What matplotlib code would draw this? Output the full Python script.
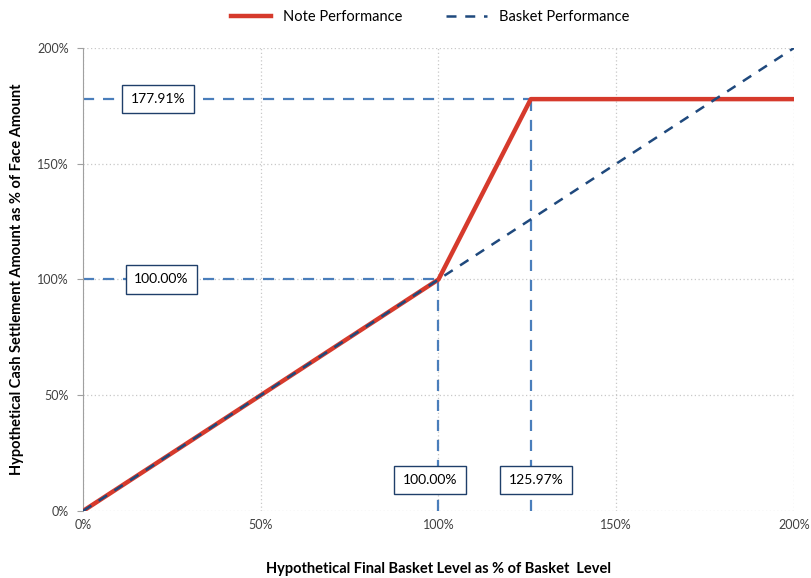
import matplotlib
matplotlib.use("Agg")
import matplotlib.pyplot as plt
from matplotlib.ticker import FuncFormatter

plt.rcParams['font.family'] = ['Lato', 'DejaVu Sans']

# Payoff data (% values)
basket_level = [0, 100, 125.97, 200]
note_payoff = [0, 100, 177.91, 177.91]
basket_x = [0, 200]
basket_y = [0, 200]

cap_level = 125.97
cap_value = 177.91
par_level = 100.0
par_value = 100.0

ref_color = '#4a7ebb'
note_color = '#d63a2c'
basket_color = '#1f497d'

fig = plt.figure(figsize=(8.11, 5.78), dpi=100)
ax = fig.add_axes([0.1023, 0.1159, 0.8767, 0.8011])

# reference guides
ax.plot([0, cap_level], [cap_value, cap_value], color=ref_color, lw=1.6, ls=(0, (5, 4)), zorder=2)
ax.plot([0, par_level], [par_value, par_value], color=ref_color, lw=1.6, ls=(0, (5, 4)), zorder=2)
ax.plot([par_level, par_level], [0, par_value], color=ref_color, lw=1.6, ls=(0, (5, 4)), zorder=2)
ax.plot([cap_level, cap_level], [0, cap_value], color=ref_color, lw=1.6, ls=(0, (5, 4)), zorder=2)

ax.plot(basket_level, note_payoff, color=note_color, lw=3.2, label="Note Performance", zorder=3)
ax.plot(basket_x, basket_y, color=basket_color, lw=1.8, ls=(0, (4, 3.5)),
        label="Basket Performance", zorder=4)

box = dict(boxstyle="square,pad=0.6", facecolor='white', edgecolor='#1f3f6a', lw=1)
ax.text(21.1, cap_value, "177.91%", ha='center', va='center', fontsize=10, bbox=box, zorder=5)
ax.text(22.0, par_value, "100.00%", ha='center', va='center', fontsize=10, bbox=box, zorder=5)
ax.text(97.6, 13.4, "100.00%", ha='center', va='center', fontsize=10, bbox=box, zorder=5)
ax.text(127.4, 13.4, "125.97%", ha='center', va='center', fontsize=10, bbox=box, zorder=5)

ax.set_xlim(0, 200)
ax.set_ylim(0, 200)
ax.set_xticks([0, 50, 100, 150, 200])
ax.set_yticks([0, 50, 100, 150, 200])
pct = FuncFormatter(lambda v, p: f"{int(v)}%")
ax.xaxis.set_major_formatter(pct)
ax.yaxis.set_major_formatter(pct)
ax.tick_params(axis='both', labelsize=9, colors='#404040', length=0, pad=6)
ax.tick_params(axis='y', length=4, color='#a0a0a0', direction='out')

ax.grid(True, color='#c8c8c8', ls=(0, (1, 2)), lw=0.9)
ax.set_axisbelow(True)
for s in ['top', 'right', 'bottom']:
    ax.spines[s].set_visible(False)
ax.spines['left'].set_color('#a0a0a0')

ax.set_xlabel("Hypothetical Final Basket Level as % of Basket  Level", fontsize=10.5,
              fontweight='bold', labelpad=22)
ax.set_ylabel("Hypothetical Cash Settlement Amount as % of Face Amount", fontsize=10.5,
              fontweight='bold', labelpad=10)

fig.legend(loc='upper center', bbox_to_anchor=(0.53, 1.005), ncol=2, frameon=False,
           fontsize=10.5, handlelength=2.8, columnspacing=3)

fig.savefig("out.png", dpi=100)
